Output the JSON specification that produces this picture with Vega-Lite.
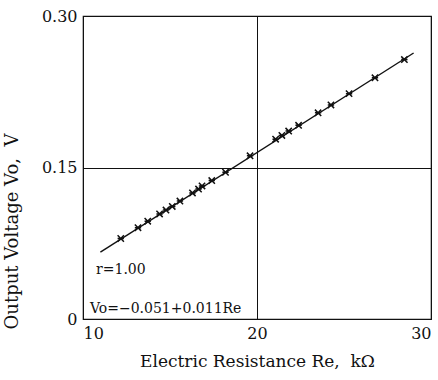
{
  "$schema": "https://vega.github.io/schema/vega-lite/v6.json",
  "width": 348,
  "height": 303,
  "autosize": {"type": "none"},
  "padding": {"left": 83, "top": 16, "right": 7, "bottom": 61},
  "background": "white",
  "config": {
    "view": {"stroke": "#111", "strokeWidth": 1.2},
    "font": "DejaVu Serif",
    "axis": {
      "labelFont": "DejaVu Serif",
      "titleFont": "DejaVu Serif",
      "labelColor": "#111",
      "titleColor": "#111",
      "labelFontSize": 16,
      "titleFontSize": 17,
      "titleFontWeight": "normal",
      "ticks": false,
      "domain": false,
      "grid": true,
      "gridColor": "#111",
      "gridOpacity": 1,
      "gridWidth": 1
    }
  },
  "datasets": {
    "measured": [
      {"re": 12.17, "vo": 0.0797},
      {"re": 13.16, "vo": 0.0904},
      {"re": 13.72, "vo": 0.0968},
      {"re": 14.40, "vo": 0.1040},
      {"re": 14.77, "vo": 0.1079},
      {"re": 15.13, "vo": 0.1114},
      {"re": 15.57, "vo": 0.1168},
      {"re": 16.29, "vo": 0.1248},
      {"re": 16.64, "vo": 0.1287},
      {"re": 16.84, "vo": 0.1317},
      {"re": 17.40, "vo": 0.1371},
      {"re": 18.19, "vo": 0.1453},
      {"re": 19.60, "vo": 0.1616},
      {"re": 21.07, "vo": 0.1780},
      {"re": 21.43, "vo": 0.1817},
      {"re": 21.82, "vo": 0.1861},
      {"re": 22.39, "vo": 0.1918},
      {"re": 23.51, "vo": 0.2042},
      {"re": 24.25, "vo": 0.2119},
      {"re": 25.29, "vo": 0.2231},
      {"re": 26.78, "vo": 0.2388},
      {"re": 28.47, "vo": 0.2569}
    ],
    "fit": [
      {"re": 11.0, "vo": 0.0663},
      {"re": 29.0, "vo": 0.2634}
    ],
    "notes": [
      {"re": 10.75, "vo": 0.0485, "label": "r=1.00"},
      {"re": 10.4, "vo": 0.0099, "label": "Vo=−0.051+0.011Re"}
    ]
  },
  "encoding": {
    "x": {
      "field": "re",
      "type": "quantitative",
      "scale": {"domain": [10, 30], "nice": false, "zero": false},
      "axis": {
        "values": [10, 20, 30],
        "title": "Electric Resistance Re,\u00a0 kΩ",
        "labelPadding": 6,
        "titlePadding": 12
      }
    },
    "y": {
      "field": "vo",
      "type": "quantitative",
      "scale": {"domain": [0, 0.3], "nice": false},
      "axis": {
        "values": [0, 0.15, 0.3],
        "labelExpr": "datum.value == 0 ? '0' : format(datum.value, '.2f')",
        "labelPadding": 6,
        "title": "Output Voltage Vo,\u00a0 V",
        "titleFontSize": 18,
        "titleX": -62,
        "titleY": 215
      }
    }
  },
  "layer": [
    {
      "data": {"name": "fit"},
      "mark": {"type": "line", "color": "#111", "strokeWidth": 1.4}
    },
    {
      "data": {"name": "measured"},
      "mark": {
        "type": "point",
        "shape": "M-1,-1L1,1M-1,1L1,-1M-1,0L1,0",
        "filled": false,
        "size": 40,
        "stroke": "#111",
        "strokeWidth": 1.5,
        "opacity": 1
      }
    },
    {
      "data": {"name": "notes"},
      "mark": {
        "type": "text",
        "align": "left",
        "baseline": "middle",
        "font": "DejaVu Serif",
        "fontSize": 14,
        "color": "#111"
      },
      "encoding": {"text": {"field": "label"}}
    }
  ]
}
